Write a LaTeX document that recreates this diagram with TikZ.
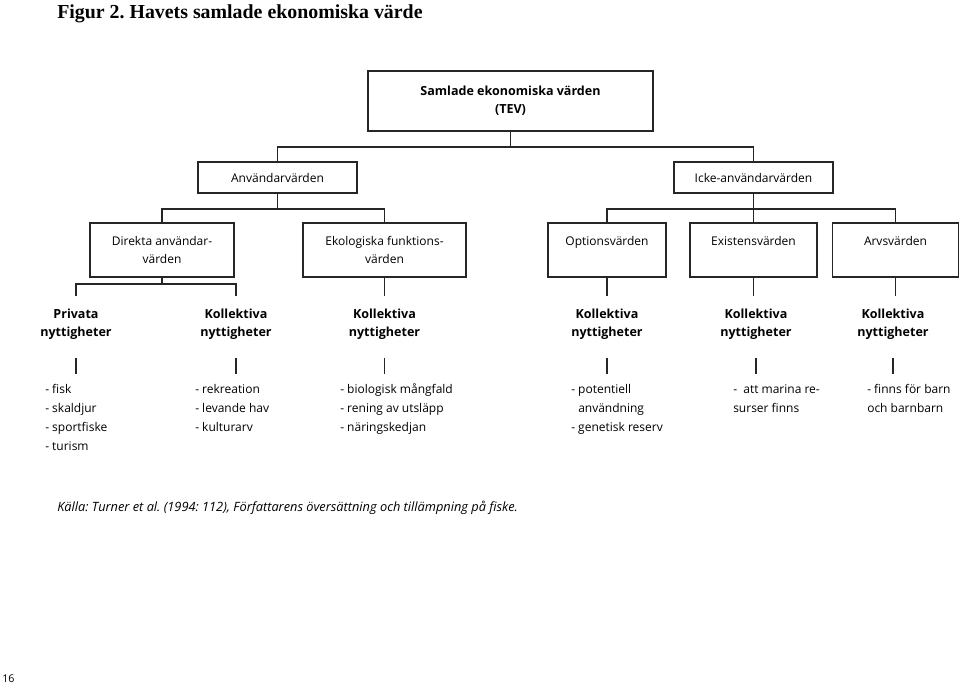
\documentclass[tikz,border=0pt]{standalone}
\usepackage{fontspec}
\setmainfont{Liberation Serif}
\setsansfont{Open Sans}
\usepackage{tikz}
\frenchspacing
\tikzstyle{box} = [draw=black!85, line width=1.2pt, align=center, font={\sffamily\fontsize{9}{13.5}\selectfont}]
\tikzstyle{tevbox} = [box, font={\sffamily\bfseries\fontsize{9.4}{13.5}\selectfont}]
\tikzstyle{nytta} = [align=center, inner ysep=9pt, font={\sffamily\bfseries\fontsize{9.4}{13.5}\selectfont}]
\tikzstyle{lista} = [anchor=north west, align=left, inner sep=0pt, font={\sffamily\fontsize{9}{14.25}\selectfont}]
\tikzstyle{link} = [draw=black!85, line width=1.2pt]

\begin{document}
\begin{tikzpicture}[x=0.75pt,y=-0.75pt]
  \useasboundingbox (0,0) rectangle (960,687);
  \node[anchor=base west,inner sep=0pt,font={\bfseries\fontsize{14.9}{18}\selectfont}](titel) at (57,18){Figur 2. Havets samlade ekonomiska värde};
  \node[tevbox,minimum width=213.75pt,minimum height=45pt](tev) at (510.5,101){Samlade ekonomiska värden\\(TEV)};
  \node[box,minimum width=119.25pt,minimum height=23.25pt](anv) at (277.5,177.5){Användarvärden};
  \node[box,minimum width=119.25pt,minimum height=23.25pt](icke) at (753.5,177.5){Icke-användarvärden};
  \node[box,minimum width=108pt,minimum height=40.5pt](dir) at (162,250){Direkta användar-\\värden};
  \node[box,minimum width=122.25pt,minimum height=40.5pt](eko) at (384.5,250){Ekologiska funktions-\\värden};
  \node[box,minimum width=88.5pt,minimum height=40.5pt](opt) at (607,250){Optionsvärden\\\mbox{}};
  \node[box,minimum width=95.25pt,minimum height=40.5pt](exi) at (753.5,250){Existensvärden\\\mbox{}};
  \node[box,minimum width=94.5pt,minimum height=40.5pt](arv) at (895.5,250){Arvsvärden\\\mbox{}};
  \node[nytta](p0) at (76,324){Privata\\nyttigheter};
  \node[nytta](p1) at (236,324){Kollektiva\\nyttigheter};
  \node[nytta](p2) at (384.5,324){Kollektiva\\nyttigheter};
  \node[nytta](p3) at (607,324){Kollektiva\\nyttigheter};
  \node[nytta](p4) at (756,324){Kollektiva\\nyttigheter};
  \node[nytta](p5) at (893,324){Kollektiva\\nyttigheter};
  \node[lista](l0) at (45,380){\strut- fisk\\- skaldjur\\- sportfiske\\- turism};
  \node[lista](l1) at (195,380){\strut- rekreation\\- levande hav\\- kulturarv};
  \node[lista](l2) at (340,380){\strut- biologisk mångfald\\- rening av utsläpp\\- näringskedjan};
  \node[lista](l3) at (571,380){\strut- potentiell\\\hphantom{- }användning\\- genetisk reserv};
  \node[lista](l4) at (733,380){\strut-\ \ att marina re-\\surser finns};
  \node[lista](l5) at (867,380){\strut- finns för barn\\och barnbarn};
  \node[anchor=base west,inner sep=0pt,font={\sffamily\itshape\fontsize{9.6}{12}\selectfont}](kalla) at (57,511){Källa: Turner et al. (1994: 112), Författarens översättning och tillämpning på fiske.};
  \node[anchor=base west,inner sep=0pt,font={\sffamily\fontsize{8}{10}\selectfont}](sida) at (2,682){16};
  \draw[link](tev.south) -- ++(0,15) coordinate (j0);
  \draw[link](anv.north) |- (j0) -| (icke.north);
  \draw[link](anv.south) -- ++(0,15) coordinate (j1);
  \draw[link](dir.north) |- (j1) -| (eko.north);
  \draw[link](icke.south) -- ++(0,15) coordinate (j2);
  \draw[link](opt.north) |- (j2) -| (arv.north);
  \draw[link](j2) -- (exi.north);
  \draw[link](dir.south) -- ++(0,6) coordinate (j3);
  \draw[link](p0.north) |- (j3) -| (p1.north);
  \draw[link](eko.south) -- (p2.north);
  \draw[link](opt.south) -- (p3.north);
  \draw[link](exi.south) -- (exi.south |- p4.north);
  \draw[link](arv.south) -- (arv.south |- p5.north);
  \draw[link](p0.south) ++(0,6) -- ++(0,16);
  \draw[link](p1.south) ++(0,6) -- ++(0,16);
  \draw[link](p2.south) ++(0,6) -- ++(0,16);
  \draw[link](p3.south) ++(0,6) -- ++(0,16);
  \draw[link](p4.south) ++(0,6) -- ++(0,16);
  \draw[link](p5.south) ++(0,6) -- ++(0,16);
\end{tikzpicture}
\end{document}
